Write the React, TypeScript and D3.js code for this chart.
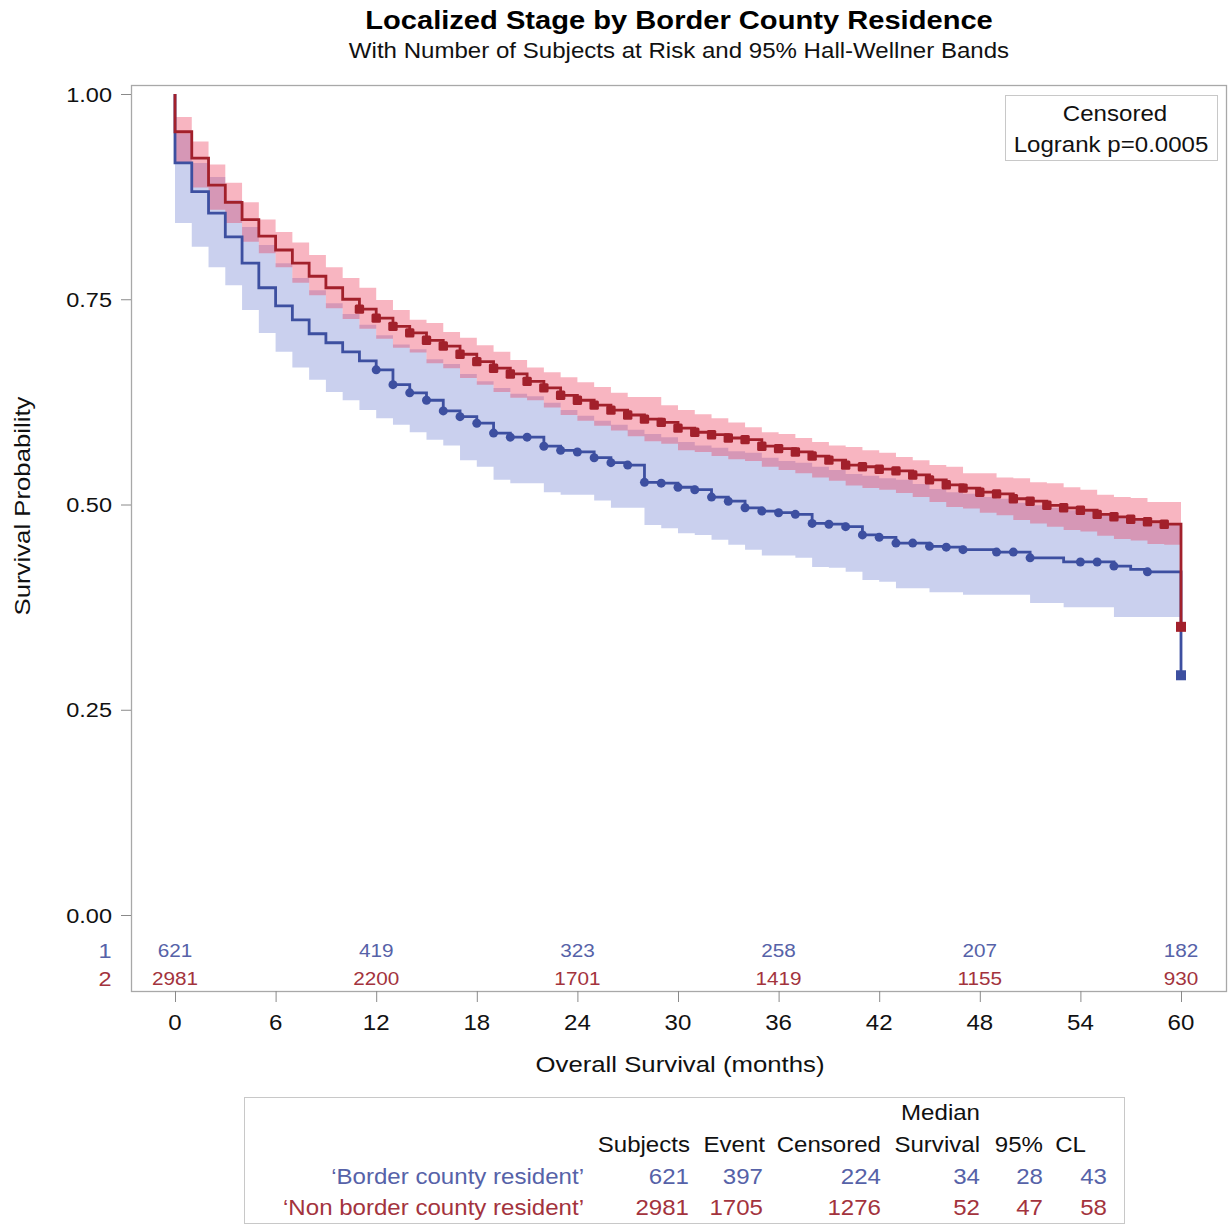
import { useEffect, useRef } from 'react';
import * as d3 from 'd3';

// survival by month (value holding on [t, t+1)), t = 0..59
const months = d3.range(0, 60);

const borderSurv = [0.916,0.881,0.855,0.826,0.794,0.764,0.742,0.725,0.708,0.697,0.686,0.675,0.664,0.646,0.636,0.627,0.614,0.607,0.599,0.587,0.582,0.582,0.571,0.566,0.564,0.557,0.551,0.548,0.527,0.526,0.521,0.518,0.509,0.504,0.496,0.492,0.490,0.488,0.477,0.476,0.473,0.463,0.460,0.453,0.453,0.449,0.448,0.445,0.445,0.442,0.442,0.435,0.435,0.430,0.430,0.430,0.425,0.421,0.418,0.418];
const borderUpper = [0.952,0.916,0.899,0.871,0.838,0.816,0.794,0.776,0.761,0.745,0.732,0.719,0.706,0.695,0.689,0.677,0.671,0.659,0.650,0.642,0.635,0.632,0.624,0.615,0.608,0.602,0.597,0.591,0.586,0.582,0.576,0.572,0.569,0.565,0.563,0.557,0.553,0.551,0.546,0.542,0.537,0.535,0.532,0.530,0.525,0.519,0.515,0.513,0.509,0.507,0.502,0.499,0.496,0.493,0.491,0.487,0.484,0.481,0.477,0.477];
const borderLower = [0.843,0.814,0.789,0.767,0.737,0.709,0.686,0.667,0.652,0.637,0.627,0.615,0.605,0.597,0.588,0.579,0.572,0.554,0.546,0.530,0.526,0.526,0.515,0.512,0.512,0.505,0.496,0.496,0.475,0.471,0.465,0.463,0.457,0.451,0.445,0.438,0.438,0.435,0.424,0.423,0.418,0.408,0.406,0.398,0.398,0.393,0.393,0.390,0.390,0.390,0.390,0.380,0.380,0.375,0.375,0.375,0.363,0.363,0.363,0.363];
const borderEnd = 0.292;
const borderCensored = [12,13,14,15,16,17,18,19,20,21,22,23,24,25,26,27,28,29,30,31,32,33,34,35,36,37,38,39,40,41,42,43,44,45,46,47,49,50,51,54,55,56,58];

const nonSurv = [0.954,0.922,0.889,0.868,0.847,0.827,0.810,0.794,0.778,0.764,0.750,0.738,0.727,0.717,0.709,0.700,0.693,0.683,0.674,0.666,0.659,0.650,0.642,0.633,0.627,0.621,0.615,0.609,0.604,0.600,0.593,0.588,0.585,0.581,0.579,0.571,0.568,0.564,0.559,0.554,0.548,0.546,0.543,0.541,0.536,0.530,0.524,0.520,0.515,0.513,0.507,0.504,0.499,0.496,0.493,0.488,0.485,0.482,0.479,0.476];
const nonUpper = [0.972,0.942,0.914,0.892,0.868,0.847,0.832,0.819,0.804,0.789,0.776,0.764,0.749,0.737,0.725,0.721,0.710,0.703,0.694,0.686,0.676,0.667,0.661,0.655,0.649,0.643,0.636,0.631,0.631,0.621,0.615,0.610,0.605,0.600,0.594,0.588,0.586,0.581,0.576,0.572,0.570,0.566,0.563,0.558,0.554,0.548,0.546,0.538,0.538,0.533,0.532,0.527,0.526,0.521,0.518,0.512,0.509,0.508,0.503,0.503];
const nonLower = [0.916,0.886,0.859,0.843,0.820,0.806,0.789,0.770,0.755,0.739,0.726,0.714,0.702,0.691,0.685,0.672,0.666,0.654,0.646,0.637,0.630,0.627,0.618,0.609,0.602,0.596,0.590,0.583,0.577,0.574,0.566,0.564,0.559,0.555,0.553,0.546,0.542,0.538,0.533,0.529,0.523,0.520,0.518,0.514,0.509,0.503,0.497,0.495,0.490,0.487,0.481,0.477,0.473,0.469,0.467,0.462,0.458,0.456,0.452,0.451];
const nonEnd = 0.351;
const nonCensored = d3.range(11, 60);

const atRiskTimes = [0, 12, 24, 36, 48, 60];
const atRiskBorder = [621, 419, 323, 258, 207, 182];
const atRiskNon = [2981, 2200, 1701, 1419, 1155, 930];

const xTicks = [0, 6, 12, 18, 24, 30, 36, 42, 48, 54, 60];
const yTicks = [0, 0.25, 0.5, 0.75, 1];

const tableHead = ['Subjects', 'Event', 'Censored', 'Survival', '95%', 'CL'];
const tableLabels = ['\u2018Border county resident\u2019', '\u2018Non border county resident\u2019'];
const tableBorder = [621, 397, 224, 34, 28, 43];
const tableNon = [2981, 1705, 1276, 52, 47, 58];

const BLUE = '#3d4fa0';
const RED = '#a2202b';
const BLUE_TXT = '#5662a8';
const RED_TXT = '#a3333d';
const FONT = '"Liberation Sans", Arial, sans-serif';
const SX = 1.12; // the reference text is a little wider than Liberation Sans

export default function App() {
    const svgRef = useRef(null);

    useEffect(() => {
        const svg = d3.select(svgRef.current);
        svg.selectAll('*').remove();

        // text helper: stretched horizontally a bit
        const txt = (x, y, str, size, anchor = 'start', color = '#111', weight = 'normal', rot = 0) =>
            svg.append('text')
                .attr('transform', `translate(${x},${y})${rot ? ` rotate(${rot})` : ''} scale(${SX},1)`)
                .attr('text-anchor', anchor)
                .attr('font-family', FONT)
                .attr('font-size', size)
                .attr('font-weight', weight)
                .attr('fill', color)
                .text(str);

        const x = d3.scaleLinear().domain([0, 60]).range([175, 1181]);
        const y = d3.scaleLinear().domain([0, 1]).range([915, 94]);

        svg.append('rect').attr('width', 1231).attr('height', 1226).attr('fill', '#fff');

        // titles
        txt(679, 29, 'Localized Stage by Border County Residence', 26, 'middle', '#000', 'bold');
        txt(679, 58, 'With Number of Subjects at Risk and 95% Hall-Wellner Bands', 21.5, 'middle', '#111');

        const groups = [
            { surv: borderSurv, up: borderUpper, lo: borderLower, end: borderEnd, cens: borderCensored, color: BLUE, band: 'rgb(111,127,208)', shape: 'circle' },
            { surv: nonSurv, up: nonUpper, lo: nonLower, end: nonEnd, cens: nonCensored, color: RED, band: 'rgb(236,55,88)', shape: 'square' },
        ];

        const area = d3.area()
            .curve(d3.curveStepAfter)
            .x(d => x(d.t))
            .y0(d => y(d.lo))
            .y1(d => y(d.up));

        const line = d3.line()
            .curve(d3.curveStepAfter)
            .x(d => x(d.t))
            .y(d => y(d.s));

        groups.forEach(g => {
            const pts = months.map(t => ({ t, lo: g.lo[t], up: g.up[t] }));
            pts.push({ t: 60, lo: g.lo[59], up: g.up[59] });
            svg.append('path').attr('d', area(pts)).attr('fill', g.band).attr('fill-opacity', 0.37);
        });

        groups.forEach(g => {
            const pts = [{ t: 0, s: 1 }].concat(months.map(t => ({ t, s: g.surv[t] })));
            pts.push({ t: 60, s: g.surv[59] });
            pts.push({ t: 60, s: g.end });
            svg.append('path').attr('d', line(pts)).attr('fill', 'none')
                .attr('stroke', g.color).attr('stroke-width', 2.8);
        });

        groups.forEach(g => {
            const c = svg.append('g').attr('fill', g.color);
            g.cens.forEach(t => {
                if (g.shape === 'circle') {
                    c.append('circle').attr('cx', x(t)).attr('cy', y(g.surv[t])).attr('r', 4.5);
                } else {
                    c.append('rect').attr('x', x(t) - 4.7).attr('y', y(g.surv[t]) - 4.7)
                        .attr('width', 9.4).attr('height', 9.4).attr('rx', 1.5);
                }
            });
            c.append('rect').attr('x', x(60) - 5).attr('y', y(g.end) - 5)
                .attr('width', 10).attr('height', 10);
        });

        // frame
        svg.append('rect').attr('x', 131.5).attr('y', 85.5).attr('width', 1095).attr('height', 906)
            .attr('fill', 'none').attr('stroke', '#a8a8a8').attr('stroke-width', 1.3);

        // axes: tick marks from d3, labels drawn below with the stretch helper
        const yAxis = svg.append('g').attr('transform', 'translate(131,0)')
            .call(d3.axisLeft(y).tickValues(yTicks).tickFormat(() => '').tickSize(10));
        const xAxis = svg.append('g').attr('transform', 'translate(0,991)')
            .call(d3.axisBottom(x).tickValues(xTicks).tickFormat(() => '').tickSize(11));
        [yAxis, xAxis].forEach(a => {
            a.select('.domain').remove();
            a.selectAll('line').attr('stroke', '#8a8a8a');
        });
        yTicks.forEach(v => txt(112, y(v) + 7.5, d3.format('.2f')(v), 21, 'end', '#111'));
        xTicks.forEach(v => txt(x(v), 1030, String(v), 21.5, 'middle', '#111'));

        txt(30, 506, 'Survival Probability', 23, 'middle', '#111', 'normal', -90);
        txt(680, 1072, 'Overall Survival (months)', 23, 'middle', '#111');

        // at risk
        const risk = [
            { label: '1', vals: atRiskBorder, color: BLUE_TXT, yy: 957 },
            { label: '2', vals: atRiskNon, color: RED_TXT, yy: 985 },
        ];
        risk.forEach(r => {
            txt(105, r.yy + 1, r.label, 21, 'middle', r.color);
            r.vals.forEach((v, i) => txt(x(atRiskTimes[i]), r.yy, String(v), 18.5, 'middle', r.color));
        });

        // legend
        svg.append('rect').attr('x', 1005.5).attr('y', 95.5).attr('width', 212).attr('height', 65)
            .attr('fill', '#fff').attr('stroke', '#c8c8c8');
        txt(1115, 121, 'Censored', 21.5, 'middle', '#111');
        txt(1111, 152, 'Logrank p=0.0005', 21.5, 'middle', '#111');

        // summary table
        svg.append('rect').attr('x', 244.5).attr('y', 1097.5).attr('width', 880).attr('height', 126)
            .attr('fill', 'none').attr('stroke', '#c8c8c8');
        const colRight = [689, 763, 881, 980, 1043, 1107];
        const headRight = [690, 765, 881, 980, 1043, 1086];
        txt(980, 1120, 'Median', 21.5, 'end', '#111');
        tableHead.forEach((h, i) => txt(headRight[i], 1152, h, 21.5, 'end', '#111'));
        [tableBorder, tableNon].forEach((row, r) => {
            const yy = 1184 + r * 31;
            const color = r === 0 ? BLUE_TXT : RED_TXT;
            txt(584, yy, tableLabels[r], 21.5, 'end', color);
            row.forEach((v, i) => txt(colRight[i], yy, String(v), 21.5, 'end', color));
        });
    }, []);

    return (
        <div style={{ position: 'absolute', left: 0, top: 0 }}>
            <svg ref={svgRef} width={1231} height={1226}></svg>
        </div>
    );
}
